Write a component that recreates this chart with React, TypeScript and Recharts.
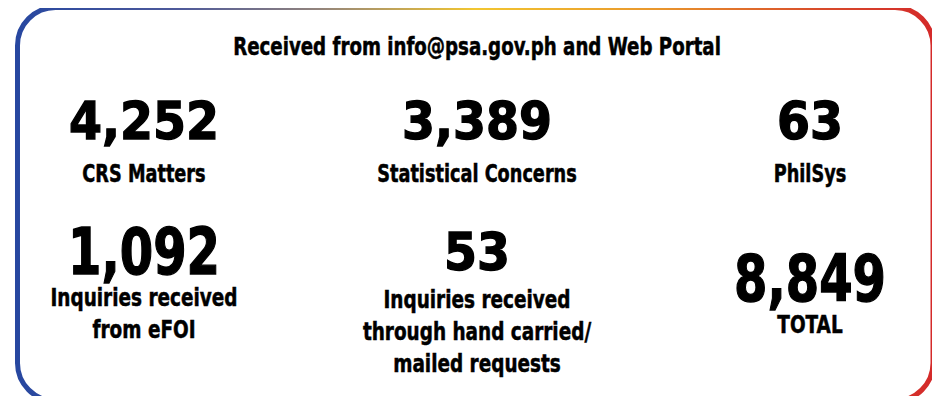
import React from "react";
import { ScatterChart, Scatter, XAxis, YAxis, Customized } from "recharts";

// ---- data ----
const title = "Received from info@psa.gov.ph and Web Portal";
const categories = [
  "CRS Matters",
  "Statistical Concerns",
  "PhilSys",
  "Inquiries received\nfrom eFOI",
  "Inquiries received\nthrough hand carried/\nmailed requests",
  "TOTAL",
];
const values = [4252, 3389, 63, 1092, 53, 8849];

// ---- layout (grid cells, not data) ----
const cols = [0, 1, 2, 0, 1, 2];
const rows = [0, 0, 0, 1, 1, 1.2];
const bigNumber = [false, false, false, true, false, true];

const data = categories.map((c, i) => ({
  col: cols[i],
  row: rows[i],
  label: c,
  value: values[i],
  big: bigNumber[i],
  idx: i,
}));

const W = 940;
const H = 404;
const LABEL_FONT = "'DejaVu Sans Condensed', 'DejaVu Sans', sans-serif";
const NUM_FONT = "'DejaVu Sans', 'Liberation Sans', sans-serif";
const LABEL_SCALE = 0.82;

const StatShape = (props: any) => {
  const { cx, cy, payload } = props;
  if (cx == null || cy == null) return null;
  const text = payload.value.toLocaleString("en-US");
  const big = payload.big;
  const cap = big ? 47 : 38;
  const fontSize = big ? 64 : 52;
  const digits = text.replace(/,/g, "").length;
  const commas = text.length - digits;
  const textLength = digits * (big ? 33.5 : 33) + commas * 18;
  const baseline = cy + cap / 2;
  const firstLabel = baseline + (big ? 32 : payload.row === 0 ? 43 : 38);
  const lines = String(payload.label).split("\n");
  const labelSize = payload.row === 0 ? 24 : 25;
  return (
    <g>
      <text
        x={cx}
        y={baseline}
        textAnchor="middle"
        fontFamily={NUM_FONT}
        fontWeight="bold"
        fontSize={fontSize}
        fill="#000"
        stroke="#000"
        strokeWidth={1.4}
        textLength={textLength}
        lengthAdjust="spacingAndGlyphs"
      >
        {text}
      </text>
      {lines.map((ln: string, k: number) => (
        <text
          key={k}
          x={0}
          y={0}
          transform={`translate(${cx},${firstLabel + k * 32}) scale(${LABEL_SCALE},1)`}
          textAnchor="middle"
          fontFamily={LABEL_FONT}
          fontWeight="bold"
          fontSize={labelSize}
          fill="#000"
          stroke="#000"
          strokeWidth={0.5}
        >
          {ln}
        </text>
      ))}
    </g>
  );
};

const Frame = () => (
  <g>
    <defs>
      <linearGradient id="frameGrad" x1="0" y1="0" x2="1" y2="0">
        <stop offset="0%" stopColor="#2747a0" />
        <stop offset="18%" stopColor="#4f5a9a" />
        <stop offset="33%" stopColor="#93847c" />
        <stop offset="50%" stopColor="#f2c630" />
        <stop offset="70%" stopColor="#e9962c" />
        <stop offset="88%" stopColor="#d84a2a" />
        <stop offset="100%" stopColor="#d42a2a" />
      </linearGradient>
    </defs>
    <rect
      x={17.5}
      y={7.5}
      width={915.5}
      height={393.5}
      rx={38}
      ry={38}
      fill="#fff"
      stroke="url(#frameGrad)"
      strokeWidth={5}
    />
    <text
      x={0}
      y={0}
      transform={`translate(477,55) scale(0.81,1)`}
      textAnchor="middle"
      fontFamily={LABEL_FONT}
      fontWeight="bold"
      fontSize={25}
      fill="#000"
      stroke="#000"
      strokeWidth={0.5}
    >
      {title}
    </text>
  </g>
);

export default function App() {
  return (
    <div style={{ margin: -8, width: W, height: H, background: "#fff" }}>
      <ScatterChart
        width={W}
        height={H}
        margin={{ top: 120, right: 130, bottom: 127, left: 144 }}
      >
        <Customized component={Frame} />
        <XAxis type="number" dataKey="col" domain={[0, 2]} hide />
        <YAxis type="number" dataKey="row" domain={[0, 1.2]} reversed hide />
        <Scatter data={data} shape={StatShape} isAnimationActive={false} />
      </ScatterChart>
    </div>
  );
}
